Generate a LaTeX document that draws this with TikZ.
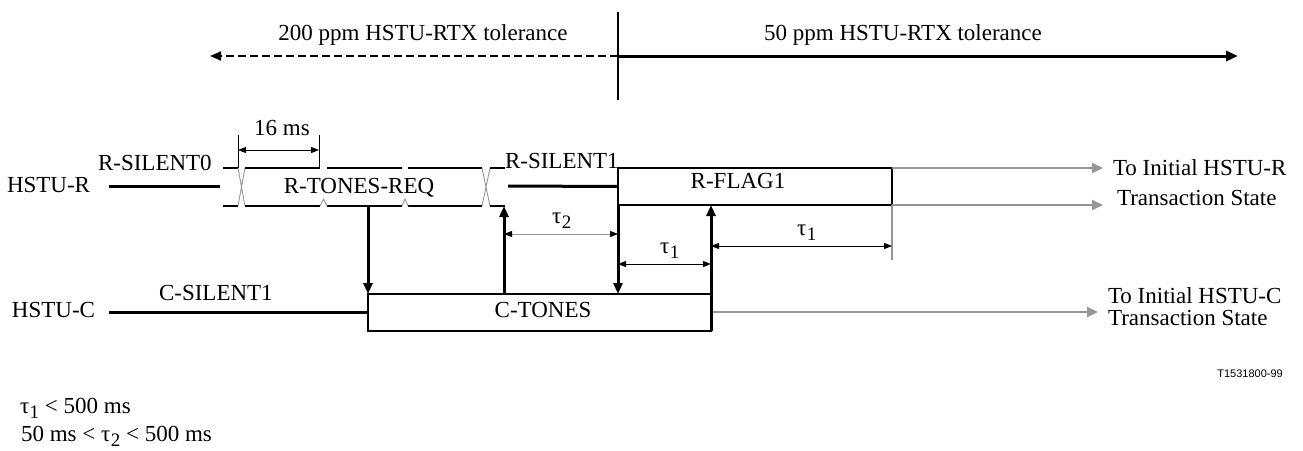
\documentclass[tikz,border=0pt]{standalone}
\usepackage{fontspec}
\setmainfont{Liberation Serif}
\newfontfamily\sansf{Liberation Sans}
\usetikzlibrary{arrows.meta}
\definecolor{lg}{RGB}{150,150,150}
\newcommand\tausub[1]{τ\kern0.5pt\raisebox{-5pt}{\fontsize{19}{19}\selectfont #1}}
\tikzset{
  lbl/.style={inner sep=0pt, outer sep=0pt, font=\fontsize{23}{25}\selectfont},
  thk/.style={line width=3pt},
  sig/.style={draw, line width=1.5pt, inner sep=0pt, outer sep=0pt},
  tip/.style={-{Triangle[length=11pt,width=9pt]}},
  dimarr/.style={line width=1pt, {Triangle[length=8pt,width=6pt]}-{Triangle[length=8pt,width=6pt]}},
  garr/.style={lg, line width=2pt, -{Triangle[length=11pt,width=10pt]}},
  cross/.style={lg, line width=0.9pt},
  tick/.style={line width=1pt},
}
\begin{document}
\begin{tikzpicture}[x=1pt,y=-1pt]
\useasboundingbox (0,0) rectangle (1303,450);

% ---------- top tolerance axis ----------
\coordinate (vt) at (618,12);
\coordinate (vb) at (618,100);
\coordinate (axc) at (618,56);
\coordinate (axl) at (210,56);
\coordinate (axr) at (1238,56);
\draw[line width=2.5pt] (vt) -- (vb);
\draw[line width=2pt, dash pattern=on 8pt off 4pt, -{Triangle[length=11pt,width=9pt]}] (axc) -- (axl);
\draw[line width=3pt, -{Triangle[length=12pt,width=10pt]}] (axc) -- (axr);
\node[lbl, anchor=base] (t200) at (423,40) {200 ppm HSTU-RTX tolerance};
\node[lbl, anchor=base] (t50) at (903,40) {50 ppm HSTU-RTX tolerance};

% ---------- labels ----------
\node[lbl, anchor=base west] (hstur) at (7,192) {HSTU-R};
\node[lbl, anchor=base west] (hstuc) at (12,317) {HSTU-C};
\node[lbl, anchor=base west] (rs0) at (98,170) {R-SILENT0};
\node[lbl, anchor=base] (ms16) at (282,135) {16 ms};
\node[lbl, anchor=base] (rtrtxt) at (359,193) {R-TONES-REQ};
\node[lbl, anchor=base west] (rs1) at (505,168) {R-SILENT1};
\node[lbl, anchor=base west] (cs1) at (159,300) {C-SILENT1};

% ---------- boxes ----------
\node[sig, minimum width=274pt, minimum height=37pt, anchor=north west] (rflag) at (618,168) {};
\node[lbl, anchor=base] (rflagtxt) at (738,188) {R-FLAG1};
\node[sig, minimum width=343pt, minimum height=37pt, anchor=north west] (ctones) at (368,294) {};
\node[lbl, anchor=base] (ctonestxt) at (543,317) {C-TONES};

% ---------- HSTU-R signal ----------
\coordinate (r0a) at (109,186);
\coordinate (r0b) at (220,186);
\draw[thk] (r0a) -- (r0b);
% R-TONES-REQ outline
\coordinate (s1t) at (223,168); \coordinate (s1b) at (223,206);
\coordinate (x1lt) at (238,168); \coordinate (x1lb) at (238,206);
\coordinate (x1rt) at (245,168); \coordinate (x1rb) at (245,206);
\coordinate (n1lt) at (320,168); \coordinate (n1lb) at (320,206);
\coordinate (n1rt) at (327,168); \coordinate (n1rb) at (327,206);
\coordinate (n2lt) at (402,168); \coordinate (n2lb) at (402,206);
\coordinate (n2rt) at (408,168); \coordinate (n2rb) at (408,206);
\coordinate (x2lt) at (482,168); \coordinate (x2lb) at (482,206);
\coordinate (x2rt) at (490,168); \coordinate (x2rb) at (490,206);
\coordinate (s2t) at (505,168); \coordinate (s2b) at (505,206);
\draw[sig] (s1t) -- (x1lt) (s1b) -- (x1lb);
\draw[cross] (x1lt) -- (x1rb) (x1lb) -- (x1rt);
\draw[sig] (x1rt) -- (n1lt) (n1rt) -- (n2lt) (n2rt) -- (x2lt);
\draw[sig] (x1rb) -- (n1lb) (n1rb) -- (n2lb) (n2rb) -- (x2lb);
\draw[cross] (n1lb) -- ++(3.5,-7) -- (n1rb);
\draw[cross] (n2lb) -- ++(3,-7) -- (n2rb);
\draw[cross] (x2lt) -- (x2rb) (x2lb) -- (x2rt);
\draw[sig] (x2rt) -- (s2t) (x2rb) -- (s2b);
% R-SILENT1
\coordinate (r1a) at (508,186);
\draw[thk] (r1a) -- (rflag.west);

% 16 ms
\coordinate (m1) at (238,135);
\coordinate (m2) at (319,135);
\coordinate (m2b) at (319,168);
\coordinate (m1a) at (238,150);
\coordinate (m2a) at (319,150);
\draw[tick] (m1) -- (x1lt);
\draw[tick] (m2) -- (m2b);
\draw[dimarr] (m1a) -- (m2a);

% to initial HSTU-R
\coordinate (gr1) at (1103,168);
\coordinate (gr2) at (1103,205);
\draw[garr] (rflag.north east) -- (gr1);
\draw[garr] (rflag.south east) -- (gr2);
\coordinate (gv) at (892,260);
\draw[lg, line width=1.5pt] (rflag.south east) -- (gv);
\node[lbl, anchor=base west] (toir) at (1113,175) {To Initial HSTU-R};
\node[lbl, anchor=base west] (tsr) at (1117,205) {Transaction State};

% ---------- HSTU-C signal ----------
\coordinate (c0a) at (109,312);
\draw[thk] (c0a) -- (ctones.west |- c0a);
\coordinate (gc) at (1098,312);
\draw[garr] (ctones.east |- c0a) -- (gc);
\node[lbl, anchor=base west] (toic) at (1108,303) {To Initial HSTU-C};
\node[lbl, anchor=base west] (tsc) at (1108,325) {Transaction State};

% ---------- vertical event arrows ----------
\coordinate (a1) at (368,206);
\draw[thk, tip] (a1) -- (ctones.north west);
\coordinate (a2) at (504,206);
\draw[thk, tip] (ctones.north west -| a2) -- (a2);
\draw[thk, tip] (rflag.south west) -- (ctones.north west -| rflag.south west);
\coordinate (a4) at (711,205);
\draw[thk, tip] (ctones.south east) -- (a4);

% ---------- timing dimensions ----------
\coordinate (d2a) at (504,234); \coordinate (d2b) at (618,234);
\draw[lg, line width=1pt, {Triangle[length=8pt,width=6pt,black]}-{Triangle[length=8pt,width=6pt,black]}] (d2a) -- (d2b);
\node[lbl, anchor=base west] (tau2) at (552,223) {\tausub{2}};
\coordinate (d1a) at (618,264); \coordinate (d1b) at (711,264);
\draw[dimarr] (d1a) -- (d1b);
\node[lbl, anchor=base west] (tau1a) at (660,253) {\tausub{1}};
\coordinate (d3a) at (711,246); \coordinate (d3b) at (892,246);
\draw[dimarr] (d3a) -- (d3b);
\node[lbl, anchor=base west] (tau1b) at (797,235) {\tausub{1}};

% ---------- notes ----------
\node[inner sep=0pt, anchor=base east, font=\sansf\fontsize{11}{12}\selectfont] (ref) at (1283,377) {T1531800-99};
\node[lbl, anchor=base west] (n1) at (20,413) {\tausub{1} < 500 ms};
\node[lbl, anchor=base west] (n2) at (21,441) {50 ms < \tausub{2} < 500 ms};
\end{tikzpicture}
\end{document}
